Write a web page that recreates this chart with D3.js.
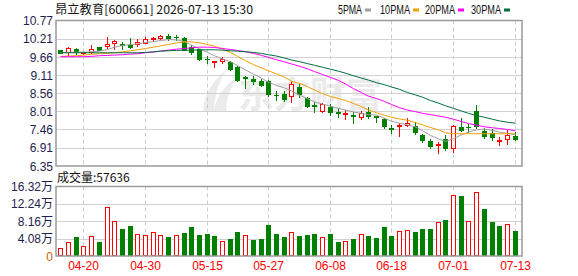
<!DOCTYPE html>
<html><head><meta charset="utf-8">
<script src="https://cdn.jsdelivr.net/npm/d3@7"></script>
<style>body{margin:0;background:#fff}svg{display:block}</style>
</head><body>
<svg id="c" width="578" height="276"></svg>
<script>
const dates=["04-15","04-16","04-17","04-20","04-21","04-22","04-23","04-24","04-27","04-28","04-29","04-30",
"05-06","05-07","05-08","05-11","05-12","05-13","05-14","05-15","05-18","05-19","05-20","05-21","05-22",
"05-25","05-26","05-27","05-28","05-29","06-01","06-02","06-03","06-04","06-05","06-08","06-09","06-10",
"06-11","06-12","06-15","06-16","06-17","06-18","06-22","06-23","06-24","06-25","06-26","06-29","06-30",
"07-01","07-02","07-03","07-06","07-07","07-08","07-09","07-10","07-13"];
const open=[9.86,9.82,9.90,9.79,9.80,9.96,10.01,10.08,10.05,10.03,10.07,10.10,10.21,10.23,10.29,10.27,10.25,9.96,9.90,9.60,
9.51,9.53,9.51,9.35,9.05,8.99,8.94,8.93,8.52,8.54,8.47,8.75,8.41,8.19,8.02,8.14,8.00,7.94,7.89,7.83,
7.98,7.86,7.77,7.50,7.57,7.61,7.55,7.28,7.12,6.99,7.17,6.89,7.52,7.54,8.01,7.41,7.35,7.12,7.17,7.27];
const high=[9.87,9.96,9.93,9.82,10.03,9.97,10.28,10.18,10.12,10.24,10.20,10.27,10.26,10.34,10.36,10.33,10.27,10.02,9.91,9.70,
9.55,9.65,9.55,9.40,9.07,9.07,8.98,8.96,8.62,8.63,8.93,8.84,8.45,8.28,8.26,8.24,8.12,8.04,7.98,8.02,
8.15,7.88,7.80,7.59,7.65,7.81,7.70,7.32,7.16,7.07,7.29,7.60,7.82,7.64,8.19,7.49,7.47,7.23,7.43,7.37];
const low=[9.77,9.72,9.74,9.76,9.78,9.87,9.92,9.91,9.90,9.93,9.99,10.08,10.15,10.21,10.19,10.18,9.86,9.74,9.57,9.49,
9.35,9.49,9.26,8.92,8.73,8.85,8.77,8.47,8.36,8.33,8.28,8.45,8.14,7.99,7.99,7.89,7.85,7.77,7.65,7.79,
7.81,7.68,7.51,7.36,7.26,7.57,7.33,7.08,6.90,6.75,6.84,6.79,7.41,7.39,7.50,7.21,7.15,7.00,7.03,7.13];
const close=[9.79,9.92,9.80,9.81,9.90,9.88,10.05,10.14,10.03,9.98,10.12,10.22,10.24,10.29,10.23,10.26,9.88,9.80,9.61,9.59,
9.53,9.61,9.31,8.96,9.02,8.93,8.81,8.54,8.50,8.40,8.84,8.53,8.18,8.17,8.22,7.99,7.95,7.97,7.87,7.96,
7.88,7.84,7.57,7.48,7.61,7.67,7.37,7.14,6.97,7.01,6.90,7.56,7.44,7.52,7.55,7.27,7.23,7.14,7.29,7.18];
const prevClose0=9.74;
// volume in 万 (10k shares)
const volume=[1.9,3.3,4.5,2.4,4.65,3.4,11.6,8.3,6.4,7.1,5.2,5.0,5.7,5.0,4.5,5.0,5.4,6.9,5.0,5.2,
4.7,3.5,4.0,5.7,5.0,3.8,4.0,7.3,5.2,4.5,5.7,4.7,5.0,5.2,4.4,5.2,3.3,3.5,4.0,5.2,
4.7,4.3,6.9,4.7,5.9,6.15,5.7,6.4,6.4,8.0,8.5,14.4,14.2,8.3,15.1,11.1,8.0,7.1,7.6,5.7636];
const ma5=[9.79,9.80,9.81,9.81,9.82,9.84,9.89,9.96,10.01,10.04,10.06,10.10,10.13,10.16,10.19,10.18,10.13,10.02,9.91,9.80,
9.70,9.60,9.52,9.40,9.27,9.14,9.02,8.89,8.80,8.72,8.63,8.50,8.40,8.30,8.23,8.17,8.10,8.05,7.99,7.95,
7.91,7.90,7.80,7.71,7.65,7.60,7.54,7.42,7.28,7.17,7.10,7.18,7.30,7.38,7.45,7.47,7.43,7.38,7.34,7.30];
const ma10=[9.68,9.69,9.70,9.72,9.74,9.76,9.77,9.79,9.82,9.85,9.88,9.92,9.96,10.00,10.04,10.09,10.12,10.12,10.09,10.04,
9.99,9.90,9.80,9.68,9.55,9.43,9.33,9.24,9.15,9.05,8.92,8.86,8.76,8.66,8.55,8.46,8.40,8.34,8.25,8.15,
8.05,7.97,7.89,7.83,7.78,7.74,7.67,7.60,7.52,7.45,7.36,7.33,7.33,7.33,7.33,7.33,7.33,7.33,7.33,7.33];
const ma20=[9.67,9.67,9.67,9.67,9.68,9.70,9.71,9.72,9.73,9.75,9.76,9.79,9.81,9.84,9.87,9.90,9.92,9.94,9.96,9.96,
9.95,9.92,9.89,9.86,9.82,9.77,9.71,9.65,9.58,9.51,9.45,9.38,9.30,9.22,9.13,9.04,8.95,8.84,8.70,8.58,
8.47,8.40,8.31,8.22,8.12,8.05,8.00,7.95,7.91,7.87,7.83,7.77,7.70,7.64,7.59,7.54,7.51,7.49,7.46,7.42];
const ma30=[9.79,9.79,9.79,9.79,9.79,9.79,9.79,9.79,9.79,9.79,9.79,9.80,9.82,9.84,9.85,9.86,9.87,9.87,9.88,9.88,
9.88,9.87,9.85,9.84,9.82,9.80,9.77,9.73,9.69,9.63,9.57,9.52,9.46,9.41,9.35,9.29,9.23,9.17,9.09,9.02,
8.96,8.88,8.82,8.75,8.68,8.58,8.51,8.44,8.34,8.26,8.18,8.10,8.02,7.95,7.88,7.83,7.77,7.72,7.68,7.65];
const priceTicks=[10.77,10.21,9.66,9.11,8.56,8.01,7.46,6.91,6.35];
const volTicks=[16.32,12.24,8.16,4.08,0];
const xTickDates=["04-20","04-30","05-15","05-27","06-08","06-18","07-01","07-13"];
const stockName="昂立教育", stockCode="600661", stamp="2026-07-13 15:30";
const maNames=["5PMA","10PMA","20PMA","30PMA"];

const svg=d3.select("#c");
const L=56, R=522, PT=20.5, PB=166, VT=186.5, VB=256;
const NUMF="'Liberation Sans',Arial,sans-serif";
const CJKF="'Noto Sans CJK SC','Liberation Sans',sans-serif";
const RED="#ff0000", GREEN="#008000";
const maColors=["#a0a0a0","#f0a000","#ff00ff","#006f3c"];

const x=d3.scaleBand().domain(dates).range([56.5,518.5]).paddingInner(0.35).paddingOuter(0.175);
const cx=d=>Math.round(x(d)+x.bandwidth()/2)+0.5;
const y=d3.scaleLinear().domain([6.35,10.77]).range([PB,PT]);
const yv=d3.scaleLinear().domain([0,16.32]).range([VB,VT]);

svg.append("rect").attr("width",578).attr("height",276).attr("fill","#fff");

// watermark
const wm=svg.append("g").attr("fill","#ebebeb");
wm.append("path").attr("d","M203,112 Q204,88 226,70 Q214,90 214,112 Z");
wm.append("path").attr("d","M214,112 Q216,92 236,78 Q226,96 226,112 Z");
wm.append("text").attr("x",238).attr("y",108).attr("font-family",CJKF).attr("font-size",36)
  .attr("font-weight","bold").text("东方财富");

// grids
const g=svg.append("g");
priceTicks.slice(1,-1).forEach(v=>{
  const yy=Math.round(y(v))+0.5;
  g.append("line").attr("x1",L).attr("x2",R).attr("y1",yy).attr("y2",yy).attr("stroke","#d2d2d2");
});
volTicks.slice(1,-1).forEach(v=>{
  const yy=Math.round(yv(v))+0.5;
  g.append("line").attr("x1",L).attr("x2",R).attr("y1",yy).attr("y2",yy).attr("stroke","#d2d2d2");
});
xTickDates.forEach(d=>{
  [[PT,PB],[VT,VB]].forEach(([a,b])=>{
    g.append("line").attr("x1",cx(d)).attr("x2",cx(d)).attr("y1",a).attr("y2",b)
      .attr("stroke","#cccccc").attr("stroke-dasharray","4,3");
  });
  svg.append("text").attr("x",cx(d)).attr("y",270).attr("text-anchor","middle")
    .attr("font-family",NUMF).attr("font-size",12).attr("fill",RED).text(d);
});

// candles
const cg=svg.append("g");
dates.forEach((d,i)=>{
  const o=open[i],c=close[i],up=c>=o;
  const col=up?RED:GREEN, xc=cx(d);
  cg.append("line").attr("x1",xc).attr("x2",xc).attr("y1",Math.round(y(high[i]))).attr("y2",Math.round(y(low[i]))+1)
    .attr("stroke",col);
  const t=Math.round(y(Math.max(o,c))), b=Math.round(y(Math.min(o,c)));
  if(up){
    cg.append("rect").attr("x",xc-2).attr("y",t+0.5).attr("width",4).attr("height",Math.max(0,b-t))
      .attr("fill","#fff").attr("stroke",col);
  } else {
    cg.append("rect").attr("x",xc-2.5).attr("y",t).attr("width",5).attr("height",Math.max(1,b-t+1))
      .attr("fill",col);
  }
});

// MA lines
[ma5,ma10,ma20,ma30].forEach((arr,k)=>{
  const line=d3.line().x((v,i)=>cx(dates[i])).y(v=>y(v));
  svg.append("path").attr("d",line(arr)).attr("fill","none").attr("stroke",maColors[k]).attr("stroke-width",1);
});

// volume bars
const vg=svg.append("g");
dates.forEach((d,i)=>{
  const pc=i===0?prevClose0:close[i-1];
  const up=close[i]>=pc, xc=cx(d);
  const t=Math.round(yv(volume[i]));
  if(up){
    vg.append("rect").attr("x",xc-2).attr("y",t+0.5).attr("width",4).attr("height",VB-t-1)
      .attr("fill","#fff").attr("stroke",RED);
  } else {
    vg.append("rect").attr("x",xc-2.5).attr("y",t).attr("width",5).attr("height",VB-t)
      .attr("fill",GREEN);
  }
});

// frames
[[PT,PB],[VT,VB]].forEach(([a,b])=>{
  svg.append("rect").attr("x",L).attr("y",a).attr("width",R-L).attr("height",b-a)
    .attr("fill","none").attr("stroke","#9a9a9a").attr("stroke-width",1.5);
});

// axis labels
priceTicks.forEach(v=>{
  svg.append("text").attr("x",53).attr("y",y(v)+4.5).attr("text-anchor","end")
    .attr("font-family",NUMF).attr("font-size",12).attr("fill","#1e1e50").text(v.toFixed(2));
});
volTicks.forEach(v=>{
  const t=svg.append("text").attr("x",53).attr("y",yv(v)+4.5).attr("text-anchor","end")
    .attr("font-size",12);
  if(v===0){ t.attr("font-family",NUMF).attr("fill","#c86400").text("0"); }
  else {
    t.append("tspan").attr("font-family",NUMF).attr("fill","#1e1e50").text(v.toFixed(2));
    t.append("tspan").attr("font-family",CJKF).attr("fill","#1e1e50").text("万");
  }
});

// title
svg.append("text").attr("x",55).attr("y",14).attr("font-family",CJKF).attr("font-size",12)
  .attr("fill","#111").attr("textLength",198).attr("lengthAdjust","spacingAndGlyphs")
  .text(`${stockName}[${stockCode}] ${stamp}`);

// legend
const legX=[338,380,425,471], legW=[24,30,30,30];
maNames.forEach((n,k)=>{
  svg.append("text").attr("x",legX[k]).attr("y",14).attr("font-family",NUMF).attr("font-size",12)
    .attr("fill","#111").attr("textLength",legW[k]).attr("lengthAdjust","spacingAndGlyphs").text(n);
  svg.append("rect").attr("x",legX[k]+legW[k]+3).attr("y",8.5).attr("width",6).attr("height",3)
    .attr("fill",maColors[k]);
});

// volume label
svg.append("text").attr("x",57).attr("y",182).attr("font-family",CJKF).attr("font-size",12)
  .attr("fill","#111").text("成交量:"+Math.round(volume[volume.length-1]*10000));
</script>
</body></html>
